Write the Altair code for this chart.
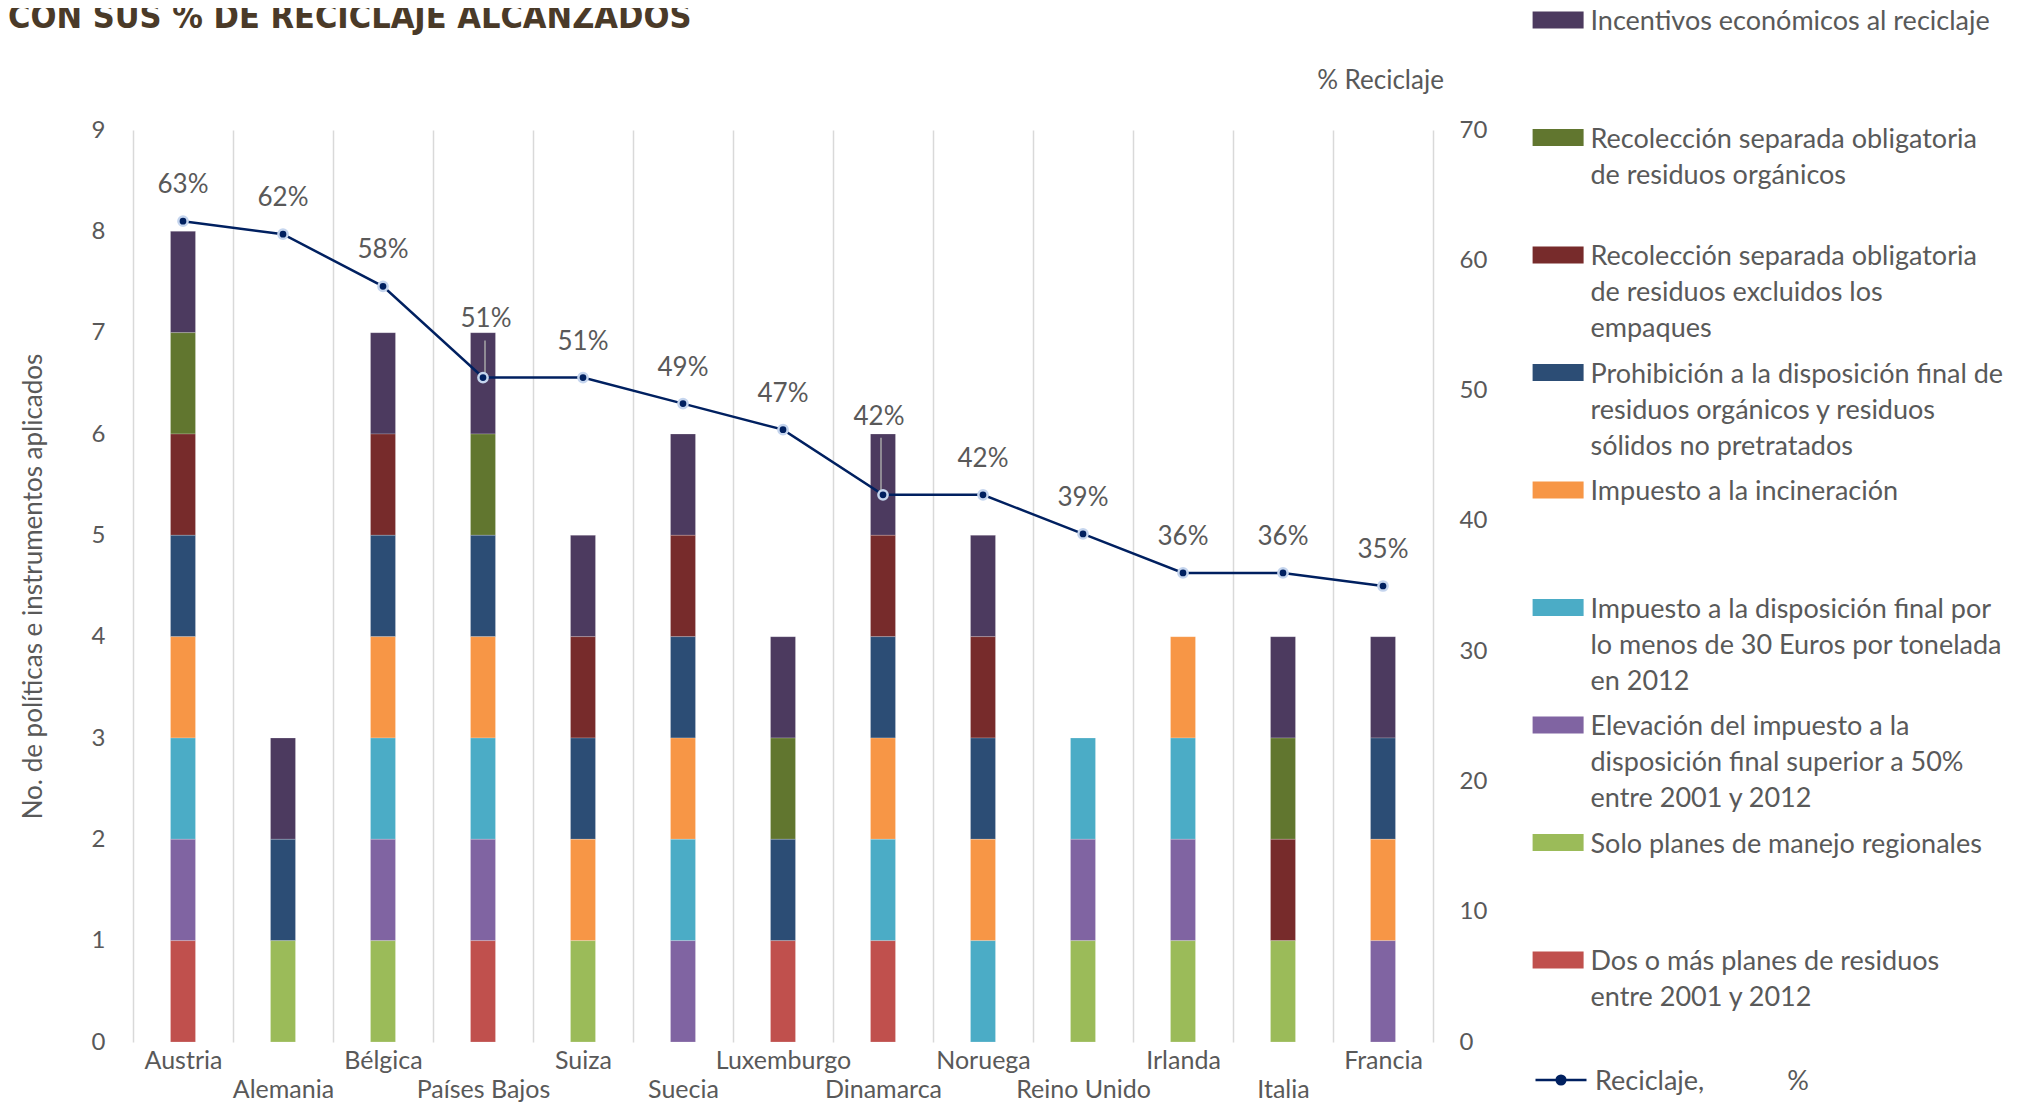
import altair as alt
import pandas as pd

# ---------------- data ----------------
paises = ["Austria", "Alemania", "Bélgica", "Países Bajos", "Suiza", "Suecia",
          "Luxemburgo", "Dinamarca", "Noruega", "Reino Unido", "Irlanda",
          "Italia", "Francia"]

reciclaje = [63, 62, 58, 51, 51, 49, 47, 42, 42, 39, 36, 36, 35]

politicas = [
    "Incentivos económicos al reciclaje",
    "Recolección separada obligatoria\nde residuos orgánicos",
    "Recolección separada obligatoria\nde residuos excluidos los\nempaques",
    "Prohibición a la disposición final de\nresiduos orgánicos y residuos\nsólidos no pretratados",
    "Impuesto a la incineración",
    "Impuesto a la disposición final por\nlo menos de 30 Euros por tonelada\nen 2012",
    "Elevación del impuesto a la\ndisposición final superior a 50%\nentre 2001 y 2012",
    "Solo planes de manejo regionales",
    "Dos o más planes de residuos\nentre 2001 y 2012",
]

colores = ["#4C3A5F", "#61762F", "#772B2B", "#2C4D75", "#F79646",
           "#4BACC6", "#8064A2", "#9BBB59", "#C0504D"]

incentivos      = [1, 1, 1, 1, 1, 1, 1, 1, 1, 0, 0, 1, 1]
rec_organicos   = [1, 0, 0, 1, 0, 0, 1, 0, 0, 0, 0, 1, 0]
rec_excluidos   = [1, 0, 1, 0, 1, 1, 0, 1, 1, 0, 0, 1, 0]
prohibicion     = [1, 1, 1, 1, 1, 1, 1, 1, 1, 0, 0, 0, 1]
imp_incinera    = [1, 0, 1, 1, 1, 1, 0, 1, 1, 0, 1, 0, 1]
imp_disposicion = [1, 0, 1, 1, 0, 1, 0, 1, 1, 1, 1, 0, 0]
elevacion       = [1, 0, 1, 1, 0, 1, 0, 0, 0, 1, 1, 0, 1]
solo_regionales = [0, 1, 1, 0, 1, 0, 0, 0, 0, 1, 1, 1, 0]
dos_planes      = [1, 0, 0, 1, 0, 0, 1, 1, 0, 0, 0, 0, 0]

miembros = [incentivos, rec_organicos, rec_excluidos, prohibicion, imp_incinera,
            imp_disposicion, elevacion, solo_regionales, dos_planes]

titulo = "CON SUS % DE RECICLAJE ALCANZADOS"
serie_linea = "Reciclaje," + "\u00a0" * 12 + "%"

# ---------------- tables ----------------
rows = []
for k, (nombre, vals) in enumerate(zip(politicas, miembros)):
    for p, v in zip(paises, vals):
        if v:
            rows.append({"pais": p, "politica": nombre,
                         "orden": len(politicas) - k, "n": v})
bars_df = pd.DataFrame(rows)
line_df = pd.DataFrame({"pais": paises, "pct": reciclaje, "serie": serie_linea})
title_df = pd.DataFrame({"t": [titulo]})

# ---------------- style ----------------
FONT = "Lato"
GRAY = "#595959"
NAVY = "#002060"
GRID = "#D9D9D9"
N = len(paises)

x_enc = alt.X(
    "pais:N", sort=paises,
    scale=alt.Scale(paddingInner=0, paddingOuter=0),
    axis=alt.Axis(
        title=None, tickBand="extent", grid=True, gridColor=GRID, gridWidth=1.5,
        ticks=False, domain=False, labelAngle=0, labelFont=FONT, labelFontSize=25,
        labelColor=GRAY, labelPadding=6, labelLineHeight=29, labelOverlap=False,
        labelExpr=f"round(datum.index*{N-1}) % 2 == 1 ? ['', datum.label] : datum.label",
    ),
)

# legend swatch: 51 x 17 px rectangle drawn with a small symbol size (r = 6.5 px)
SW = "M-3.923,0.392H3.923V3.017H-3.923Z"

bars = alt.Chart(bars_df).mark_bar(width=25, stroke="#ffffff", strokeWidth=0.6,
                                   strokeOpacity=0.35).encode(
    x=x_enc,
    y=alt.Y("n:Q", stack="zero",
            scale=alt.Scale(domain=[0, 9], nice=False),
            axis=alt.Axis(
                values=list(range(10)), title="No. de políticas e instrumentos aplicados",
                grid=False, ticks=False, tickSize=0, domain=False,
                labelFont=FONT, labelFontSize=24, labelColor=GRAY, labelPadding=28,
                titleFont=FONT, titleFontSize=26, titleFontWeight="normal",
                titleColor=GRAY, titleX=-100, titleY=456, titleAngle=270,
                titleAlign="center", titleBaseline="middle")),
    color=alt.Color(
        "politica:N", scale=alt.Scale(domain=politicas, range=colores),
        legend=alt.Legend(
            title=None, orient="none", legendX=1411.6, legendY=-134.5,
            direction="vertical", columns=1, gridAlign="all",
            symbolType=SW, symbolSize=169, symbolStrokeWidth=0,
            symbolOpacity=1, labelFont=FONT, labelFontSize=27, labelColor=GRAY,
            labelLimit=0, labelOffset=18.9, labelBaseline="top",
            labelExpr="split(datum.label, '\\n')", rowPadding=5.5)),
    order=alt.Order("orden:Q", sort="ascending"),
)

y_pct = alt.Y("pct:Q", scale=alt.Scale(domain=[0, 70], nice=False),
              axis=alt.Axis(
                  orient="right", values=list(range(0, 80, 10)), title="% Reciclaje",
                  grid=False, ticks=False, tickSize=0, domain=False,
                  labelFont=FONT, labelFontSize=24, labelColor=GRAY, labelPadding=26,
                  titleFont=FONT, titleFontSize=26, titleFontWeight="normal",
                  titleColor=GRAY, titleAngle=0, titleX=-53, titleY=-50,
                  titleAlign="center", titleBaseline="middle"))

base = alt.Chart(line_df).encode(x=alt.X("pais:N", sort=paises), y=y_pct)

linea = base.mark_line(strokeWidth=2.5).encode(
    stroke=alt.Stroke(
        "serie:N", scale=alt.Scale(range=[NAVY]),
        legend=alt.Legend(
            title=None, orient="none", legendX=1401, legendY=948 - 36,
            symbolType=("M-1,0.43H1"
                        "M-0.17,0.43A0.17,0.17,0,1,0,0.17,0.43A0.17,0.17,0,1,0,-0.17,0.43"
                        "M-0.08,0.43A0.08,0.08,0,1,0,0.08,0.43A0.08,0.08,0,1,0,-0.08,0.43"),
            symbolSize=2601, symbolStrokeWidth=2.5, symbolStrokeColor=NAVY,
            labelFont=FONT, labelFontSize=27, labelColor=GRAY, labelLimit=0,
            labelOffset=7, labelBaseline="top")),
)

leader_pb = base.transform_filter(alt.datum.pais == "Países Bajos").mark_rule(
    color="#A6A6A6", strokeWidth=1.5, xOffset=2, y2Offset=-37).encode(y2="pct:Q")
leader_dk = base.transform_filter(alt.datum.pais == "Dinamarca").mark_rule(
    color="#A6A6A6", strokeWidth=1.5, xOffset=-2, y2Offset=-57).encode(y2="pct:Q")

puntos = base.mark_circle(size=85, fill=NAVY, stroke="#C5D5EE", strokeWidth=2.5,
                          opacity=1)

lbl = base.transform_calculate(lbl="datum.pct + '%'")
txt_kw = dict(font=FONT, fontSize=26, color=GRAY, baseline="middle")
etiquetas = lbl.transform_filter(
    "datum.pais != 'Países Bajos' && datum.pais != 'Dinamarca'").mark_text(
    dy=-36, **txt_kw).encode(text="lbl:N")
etq_pb = lbl.transform_filter(alt.datum.pais == "Países Bajos").mark_text(
    dy=-59, dx=3, **txt_kw).encode(text="lbl:N")
etq_dk = lbl.transform_filter(alt.datum.pais == "Dinamarca").mark_text(
    dy=-78, dx=-4, **txt_kw).encode(text="lbl:N")

capa_linea = alt.layer(linea, leader_pb, leader_dk, puntos, etiquetas, etq_pb, etq_dk)

# chart heading (partially cut at the top edge, as in the original)
encabezado = alt.Chart(title_df).mark_text(
    align="left", baseline="alphabetic",
    font="Liberation Sans Narrow, DejaVu Sans Condensed, sans-serif",
    fontSize=34, fontWeight="bold", color="#4A3A28",
).encode(text="t:N", x=alt.value(-125), y=alt.value(-102))

chart = alt.layer(bars, capa_linea, encabezado).resolve_scale(
    y="independent", color="independent", stroke="independent"
).properties(
    width=1300, height=912,
    autosize=alt.AutoSizeParams(type="none"),
    padding={"left": 125, "top": 122, "right": 580, "bottom": 64},
).configure(
    font=FONT, style={"guide-label": {"lineHeight": 36}}
).configure_view(stroke=None)

chart.save("out.html", embed_options={"renderer": "svg", "actions": False})
